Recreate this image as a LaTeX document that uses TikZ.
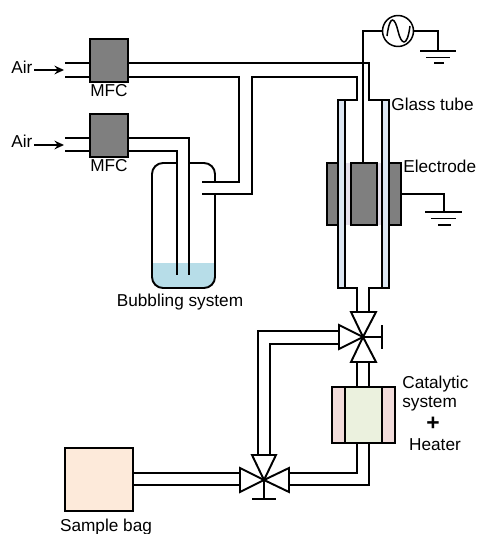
\documentclass[tikz,border=0pt]{standalone}
\usepackage{fontspec}
\setmainfont{Liberation Sans}
\usetikzlibrary{arrows.meta, positioning}

\definecolor{mfcgray}{HTML}{7F7F7F}
\definecolor{waterblue}{HTML}{B7DDE8}
\definecolor{wallblue}{HTML}{DCE6F2}
\definecolor{gaplilac}{HTML}{E6E0EC}
\definecolor{heaterpink}{HTML}{F2DCDB}
\definecolor{catgreen}{HTML}{EBF1DE}
\definecolor{bagpeach}{HTML}{FDEADA}

\begin{document}
\begin{tikzpicture}[
		x=0.02cm, y=-0.02cm,
		every node/.style={font=\fontsize{9.8}{11.5}\selectfont, inner sep=0pt},
		pipe/.style={draw, line width=1pt, line join=miter},
		wire/.style={draw, line width=0.75pt},
		arrow/.style={-{Stealth[length=5.5pt, width=5pt, inset=2pt]}, line width=0.85pt},
		unit/.style={draw, line width=1.3pt, fill=mfcgray, minimum width=0.76cm, minimum height=0.86cm},
		block/.style={draw, line width=1.3pt, fill=mfcgray, minimum height=1.24cm},
		valve/.style={draw, line width=1.1pt, fill=white, line join=miter},
		earth/.style={line width=0.85pt}
		]
		\useasboundingbox (0,0) rectangle (478,534);
		
		% MFC units
		\node[unit] (mfca) at (109,60.5) {};
		\node[unit] (mfcb) at (109,135.5) {};
		\node[below=0.02cm of mfca] (mfcatext) {MFC};
		\node[below=0.02cm of mfcb] (mfcbtext) {MFC};
		
		% Inlets
		\node[anchor=west] (aira) at (11,67) {Air};
		\node[anchor=west] (airb) at (11,141) {Air};
		\coordinate (ina) at (64,70);
		\coordinate (inb) at (64,145);
		\draw[arrow] (34,70) -- (ina);
		\draw[arrow] (34,145) -- (inb);
		\draw[pipe] (65,63) -- (mfca.west |- 0,63);
		\draw[pipe] (65,77) -- (mfca.west |- 0,77);
		\draw[pipe] (65,138) -- (mfcb.west |- 0,138);
		\draw[pipe] (65,151) -- (mfcb.west |- 0,151);
		
		% Bubbler
		\fill[waterblue, rounded corners=0.22cm] (152,263) -- (152,288) -- (215,288) -- (215,263) -- cycle;
		\fill[waterblue] (152,263) rectangle (215,275);
		\draw[pipe, line width=1.1pt, rounded corners=0.22cm] (177,163) -- (152,163) -- (152,288) -- (215,288) -- (215,194);
		\draw[pipe, line width=1.1pt, rounded corners=0.22cm] (215,182) -- (215,163) -- (189,163);
		\node (bubbletext) at (180,302) {Bubbling system};
		
		% Pipes between MFC, bubbler and tube
		\draw[pipe] (mfcb.east |- 0,138) -- (189,138) -- (189,275);
		\draw[pipe] (mfcb.east |- 0,151) -- (177,151) -- (177,275);
		\draw[pipe] (mfca.east |- 0,77) -- (239,77) -- (239,182) -- (202,182);
		\draw[pipe] (202,194) -- (252,194) -- (252,77) -- (357,77) -- (357,100) -- (338,100);
		\draw[pipe] (mfca.east |- 0,63) -- (369,63) -- (369,100) -- (389,100);
		
		% Electrodes and glass tube
		\fill[gaplilac] (338,163) rectangle (389,225);
		\node[block, minimum width=0.22cm] (elleft) at (332.5,194) {};
		\node[block, minimum width=0.52cm] (elmid) at (364,194) {};
		\node[block, minimum width=0.24cm] (elright) at (395,194) {};
		\draw[pipe, fill=wallblue] (338,100) rectangle (345,288);
		\draw[pipe, fill=wallblue] (382,100) rectangle (389,288);
		\node[anchor=west] (glasstext) at (391,104) {Glass tube};
		\node[anchor=west] (electext) at (403,166) {Electrode};
		
		% AC source and earth
		\node[draw, circle, line width=0.85pt, minimum size=0.62cm] (ac) at (398,31) {};
		\draw[line width=0.85pt] (387,36) .. controls (390,13) and (395,18) .. (398,31) .. controls (401,44) and (407,49) .. (410,26);
		\coordinate (eartha) at (438,51);
		\coordinate (earthb) at (444,212);
		\draw[wire] (ac.west) -- (363,31) -- (elmid.north -| 363,0);
		\draw[wire] (ac.east) -- (438,31) -- (eartha);
		\draw[wire] (elright.east) -- (444,194) -- (earthb);
		\draw[earth] (420,51) -- (456,51) (426,57.5) -- (450,57.5) (434,63) -- (444,63);
		\draw[earth] (425,212) -- (462,212) (431,218.5) -- (456,218.5) (438,225) -- (451,225);
		
		% Below the tube
		\draw[pipe] (338,288) -- (357,288) -- (357,312);
		\draw[pipe] (389,288) -- (369,288) -- (369,312);
		\draw[pipe] (357,362) -- (357,387);
		\draw[pipe] (369,362) -- (369,387);
		
		% Catalytic system
		\node[draw, line width=1.1pt, fill=heaterpink, minimum width=1.26cm, minimum height=1.12cm] (heater) at (363.5,415) {};
		\node[draw, line width=1.1pt, fill=catgreen, minimum width=0.74cm, minimum height=1.12cm] (cat) at (363.5,415) {};
		\node[anchor=west] (cattext) at (402,384) {Catalytic};
		\node[anchor=west] (systext) at (402,404) {system};
		\node[font=\fontsize{13}{13}\selectfont\bfseries] (plustext) at (433,424) {+};
		\node (heatertext) at (435,445) {Heater};
		
		% Return line
		\draw[pipe] (357,443) -- (357,473) -- (289,473);
		\draw[pipe] (369,443) -- (369,485) -- (289,485);
		\draw[pipe] (258,455) -- (258,331) -- (339,331);
		\draw[pipe] (270,455) -- (270,344) -- (339,344);
		
		% Sample bag
		\node[draw, line width=1.1pt, fill=bagpeach, minimum width=1.36cm, minimum height=1.26cm] (bag) at (99,479.5) {};
		\node (bagtext) at (106,527) {Sample bag};
		\draw[pipe] (bag.east |- 0,473) -- (240,473);
		\draw[pipe] (bag.east |- 0,485) -- (240,485);
		
		% Valves
		\coordinate (va) at (363,337);
		\coordinate (vb) at (264,480);
		\draw[wire, line width=1.1pt] (va) -- (382,337);
		\draw[wire, line width=1.1pt] (382,325) -- (382,349);
		\draw[valve] (va) -- (351,312) -- (376,312) -- cycle;
		\draw[valve] (va) -- (351,362) -- (376,362) -- cycle;
		\draw[valve] (va) -- (339,325) -- (339,349) -- cycle;
		\draw[wire, line width=1.1pt] (vb) -- (264,499);
		\draw[wire, line width=1.1pt] (252,499) -- (276,499);
		\draw[valve] (vb) -- (252,455) -- (276,455) -- cycle;
		\draw[valve] (vb) -- (240,468) -- (240,492) -- cycle;
		\draw[valve] (vb) -- (289,468) -- (289,492) -- cycle;
		
	\end{tikzpicture}
\end{document}
